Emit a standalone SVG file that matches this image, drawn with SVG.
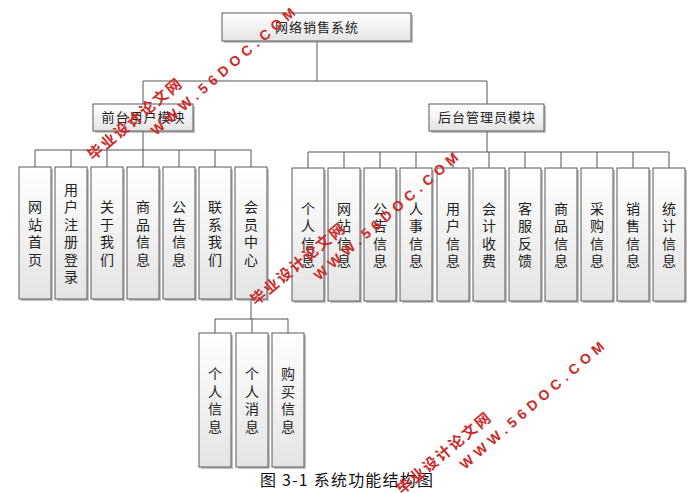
<svg xmlns="http://www.w3.org/2000/svg" xmlns:xlink="http://www.w3.org/1999/xlink" width="691" height="493" viewBox="0 0 691 493">
<style>
.bx{fill:url(#g);stroke:#5a5a5a;stroke-width:1}
.sh{fill:#9a9a9a;opacity:0.6}
.t{font-family:"Noto Sans CJK SC","Liberation Sans",sans-serif;font-size:14px;fill:#222;text-anchor:middle;writing-mode:vertical-rl;letter-spacing:3.5px}
.m{font-family:"Noto Sans CJK SC","Liberation Sans",sans-serif;font-size:13px;letter-spacing:1px;fill:#222;text-anchor:middle}
.ln{stroke:#555;stroke-width:1;fill:none}
.wc{font-family:"Noto Sans CJK SC",sans-serif;font-size:15px;font-weight:bold;letter-spacing:2px;fill:#cc2b2b}
.we{font-family:"Liberation Sans",sans-serif;font-size:14px;font-weight:bold;letter-spacing:5px;fill:#cc2b2b}
.cap{font-family:"Noto Sans CJK SC","Liberation Serif",sans-serif;font-size:16px;fill:#111}
</style>
<defs>
<linearGradient id="g" x1="0" y1="0" x2="0" y2="1">
<stop offset="0" stop-color="#ffffff"/>
<stop offset="1" stop-color="#e4e4e4"/>
</linearGradient>
<g id="wm">
<text class="wc" transform="translate(93,161) rotate(-40)">毕业设计论文网</text>
<text class="we" transform="translate(156,136) rotate(-41)">WWW.56DOC.COM</text>
</g>
</defs>
<rect width="691" height="493" fill="#ffffff"/>
<g id="connectors">
<path class="ln" d="M317,41V81M143,81H487M143,81V104M487,81V104"/>
<path class="ln" d="M143,131V150M35,150H251M35,150V167M71,150V167M107,150V167M143,150V167M179,150V167M215,150V167M251,150V167"/>
<path class="ln" d="M487,131V152M308,152H669M308,152V168M344,152V168M380,152V168M416,152V168M453,152V168M489,152V168M525,152V168M561,152V168M597,152V168M633,152V168M669,152V168"/>
<path class="ln" d="M251,299V319M215,319H288M215,319V333M252,319V333M288,319V333"/>
</g>
<g id="root"><rect class="sh" x="224" y="15" width="189" height="28"/><rect class="bx" x="222" y="13" width="189" height="28"/><text class="m" x="317" y="32">网络销售系统</text></g>
<g id="front"><rect class="sh" x="95" y="106" width="100" height="27"/><rect class="bx" x="93" y="104" width="100" height="27"/><text class="m" x="143.5" y="122">前台用户模块</text></g>
<g id="back"><rect class="sh" x="431" y="106" width="115" height="27"/><rect class="bx" x="429" y="104" width="115" height="27"/><text class="m" x="487" y="122">后台管理员模块</text></g>

<g id="n1"><rect class="sh" x="21" y="169" width="32" height="132"/><rect class="bx" x="19" y="167" width="32" height="132"/><text class="t" x="35" y="234.75">网站首页</text></g>
<g id="n2"><rect class="sh" x="57" y="169" width="32" height="132"/><rect class="bx" x="55" y="167" width="32" height="132"/><text class="t" x="71" y="234.75">用户注册登录</text></g>
<g id="n3"><rect class="sh" x="93" y="169" width="32" height="132"/><rect class="bx" x="91" y="167" width="32" height="132"/><text class="t" x="107" y="234.75">关于我们</text></g>
<g id="n4"><rect class="sh" x="129" y="169" width="32" height="132"/><rect class="bx" x="127" y="167" width="32" height="132"/><text class="t" x="143" y="234.75">商品信息</text></g>
<g id="n5"><rect class="sh" x="165" y="169" width="32" height="132"/><rect class="bx" x="163" y="167" width="32" height="132"/><text class="t" x="179" y="234.75">公告信息</text></g>
<g id="n6"><rect class="sh" x="201" y="169" width="32" height="132"/><rect class="bx" x="199" y="167" width="32" height="132"/><text class="t" x="215" y="234.75">联系我们</text></g>
<g id="n7"><rect class="sh" x="237" y="169" width="32" height="132"/><rect class="bx" x="235" y="167" width="32" height="132"/><text class="t" x="251" y="234.75">会员中心</text></g>

<g id="m1"><rect class="sh" x="201" y="335" width="32" height="134"/><rect class="bx" x="199" y="333" width="32" height="134"/><text class="t" x="215" y="401.75">个人信息</text></g>
<g id="m2"><rect class="sh" x="238" y="335" width="32" height="134"/><rect class="bx" x="236" y="333" width="32" height="134"/><text class="t" x="252" y="401.75">个人消息</text></g>
<g id="m3"><rect class="sh" x="274" y="335" width="32" height="134"/><rect class="bx" x="272" y="333" width="32" height="134"/><text class="t" x="288" y="401.75">购买信息</text></g>

<g id="r1"><rect class="sh" x="294" y="170" width="32" height="133"/><rect class="bx" x="292" y="168" width="32" height="133"/><text class="t" x="308" y="236.25">个人信息</text></g>
<g id="r2"><rect class="sh" x="330" y="170" width="32" height="133"/><rect class="bx" x="328" y="168" width="32" height="133"/><text class="t" x="344" y="236.25">网站信息</text></g>
<g id="r3"><rect class="sh" x="366" y="170" width="32" height="133"/><rect class="bx" x="364" y="168" width="32" height="133"/><text class="t" x="380" y="236.25">公告信息</text></g>
<g id="r4"><rect class="sh" x="402" y="170" width="32" height="133"/><rect class="bx" x="400" y="168" width="32" height="133"/><text class="t" x="416" y="236.25">人事信息</text></g>
<g id="r5"><rect class="sh" x="439" y="170" width="32" height="133"/><rect class="bx" x="437" y="168" width="32" height="133"/><text class="t" x="453" y="236.25">用户信息</text></g>
<g id="r6"><rect class="sh" x="475" y="170" width="32" height="133"/><rect class="bx" x="473" y="168" width="32" height="133"/><text class="t" x="489" y="236.25">会计收费</text></g>
<g id="r7"><rect class="sh" x="511" y="170" width="32" height="133"/><rect class="bx" x="509" y="168" width="32" height="133"/><text class="t" x="525" y="236.25">客服反馈</text></g>
<g id="r8"><rect class="sh" x="547" y="170" width="32" height="133"/><rect class="bx" x="545" y="168" width="32" height="133"/><text class="t" x="561" y="236.25">商品信息</text></g>
<g id="r9"><rect class="sh" x="583" y="170" width="32" height="133"/><rect class="bx" x="581" y="168" width="32" height="133"/><text class="t" x="597" y="236.25">采购信息</text></g>
<g id="r10"><rect class="sh" x="619" y="170" width="32" height="133"/><rect class="bx" x="617" y="168" width="32" height="133"/><text class="t" x="633" y="236.25">销售信息</text></g>
<g id="r11"><rect class="sh" x="655" y="170" width="32" height="133"/><rect class="bx" x="653" y="168" width="32" height="133"/><text class="t" x="669" y="236.25">统计信息</text></g>

<text class="cap" x="260" y="486" textLength="173" lengthAdjust="spacing">图 3-1 系统功能结构图</text>

<g id="watermarks">
<use xlink:href="#wm"/>
<use xlink:href="#wm" transform="translate(163,145)"/>
<use xlink:href="#wm" transform="translate(309,334)"/>
</g>
</svg>
